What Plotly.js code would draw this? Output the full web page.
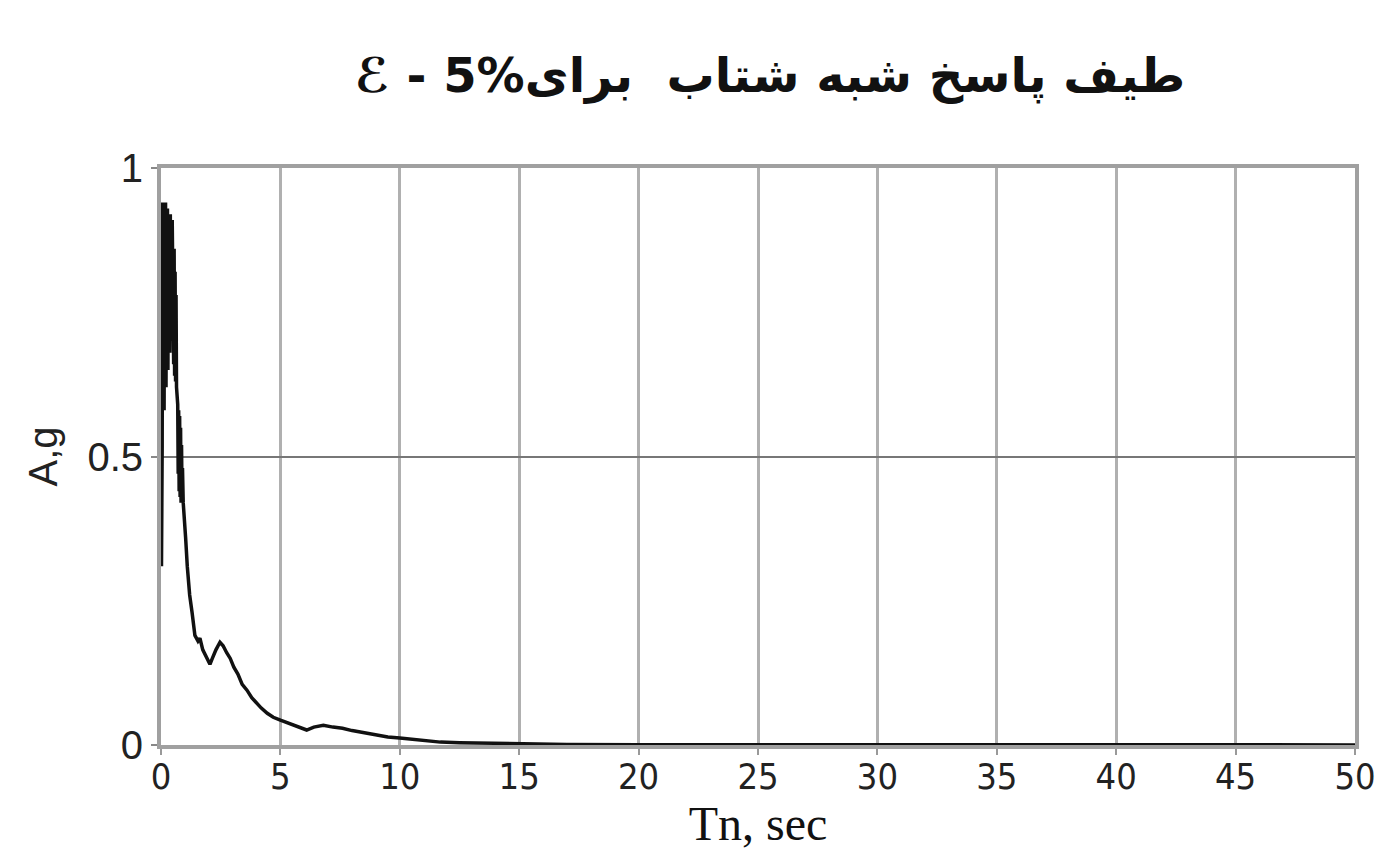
<!DOCTYPE html>
<html>
<head>
<meta charset="utf-8">
<script src="https://cdn.plot.ly/plotly-3.0.1.min.js"></script>
<style>html,body{margin:0;padding:0;background:#fff;}#chart{width:1380px;height:851px;}</style>
</head>
<body>
<div id="chart"></div>
<script>
// Period Tn (sec)
const periodT = [0.02, 0.05, 0.07, 0.09, 0.11, 0.13, 0.15, 0.17, 0.19, 0.21, 0.23, 0.25, 0.27, 0.29, 0.31, 0.33,
  0.35, 0.37, 0.39, 0.41, 0.43, 0.45, 0.47, 0.49, 0.51, 0.53, 0.55, 0.57, 0.59, 0.61, 0.63, 0.65,
  0.67, 0.70, 0.72, 0.74, 0.76, 0.78, 0.80, 0.82, 0.84, 0.86, 0.88, 0.90, 0.93, 0.97, 1.03, 1.10,
  1.20, 1.30, 1.42, 1.55, 1.63, 1.75, 1.87, 1.97, 2.05, 2.15, 2.30, 2.47, 2.60, 2.75, 2.90, 3.05,
  3.22, 3.40, 3.60, 3.80, 4.00, 4.20, 4.45, 4.70, 5.00, 5.30, 5.60, 5.90, 6.10, 6.40, 6.80, 7.20,
  7.60, 8.00, 8.50, 9.00, 9.50, 10.0, 10.8, 11.7, 12.5, 13.8, 15.0, 17.0, 20.0, 25.0, 30.0, 35.0,
  40.0, 45.0, 50.0];
// Pseudo-acceleration A (g)
const accelA = [0.31, 0.52, 0.94, 0.60, 0.93, 0.58, 0.92, 0.66, 0.94, 0.62, 0.91, 0.70, 0.93, 0.65, 0.92, 0.72,
  0.90, 0.68, 0.92, 0.74, 0.89, 0.70, 0.91, 0.75, 0.88, 0.66, 0.86, 0.64, 0.82, 0.63, 0.78, 0.62,
  0.60, 0.59, 0.47, 0.58, 0.44, 0.57, 0.43, 0.55, 0.42, 0.52, 0.43, 0.48, 0.42, 0.40, 0.36, 0.31,
  0.26, 0.23, 0.19, 0.18, 0.185, 0.165, 0.155, 0.145, 0.14, 0.15, 0.165, 0.178, 0.172, 0.16, 0.15, 0.135,
  0.123, 0.105, 0.095, 0.082, 0.072, 0.064, 0.055, 0.048, 0.043, 0.038, 0.034, 0.029, 0.026, 0.031, 0.034, 0.031,
  0.029, 0.025, 0.021, 0.017, 0.014, 0.012, 0.008, 0.005, 0.004, 0.003, 0.002, 0.001, 0.0005, 0.0003, 0.0002, 0.0002,
  0.0002, 0.0002, 0.0002];
const xTicks = [0, 5, 10, 15, 20, 25, 30, 35, 40, 45, 50];
const yTicks = [0, 0.5, 1];
const yTickText = ['0', '0.5', '1'];
const chartTitle = '\u2130 - 5%' + 'طیف پاسخ شبه شتاب  برای';
const xTitle = 'Tn, sec';
const yTitle = 'A,g';

const trace = {
  x: periodT, y: accelA, type: 'scatter', mode: 'lines',
  line: {color: '#111', width: 3.5}, hoverinfo: 'skip'
};
const layout = {
  width: 1380, height: 851,
  margin: {l: 161, r: 25, t: 168, b: 106},
  paper_bgcolor: '#fff', plot_bgcolor: '#fff',
  showlegend: false,
  title: {
    text: chartTitle,
    font: {family: 'DejaVu Sans', size: 48, color: '#111', weight: 'bold'},
    xref: 'container', x: 0.558, xanchor: 'center',
    yref: 'container', y: 0.912, yanchor: 'middle'
  },
  xaxis: {
    range: [0, 50], tickvals: xTicks, ticktext: xTicks.map(String),
    showgrid: true, gridcolor: '#b0b0b0', gridwidth: 3,
    showline: true, linecolor: '#a0a0a0', linewidth: 4, mirror: true,
    ticks: 'outside', ticklen: 6, tickcolor: '#999', tickwidth: 2,
    ticklabelstandoff: -9,
    zeroline: false,
    tickfont: {family: 'DejaVu Sans Condensed', size: 36, color: '#222'},
    title: {text: xTitle, standoff: 8,
      font: {family: 'Liberation Serif', size: 48, color: '#111'}}
  },
  yaxis: {
    range: [0, 1], tickvals: yTicks, ticktext: yTickText,
    showgrid: true, gridcolor: '#777', gridwidth: 2,
    showline: true, linecolor: '#a0a0a0', linewidth: 4, mirror: true,
    ticks: 'outside', ticklen: 6, tickcolor: '#888', tickwidth: 2,
    zeroline: false,
    tickfont: {family: 'Liberation Sans', size: 40, color: '#222'},
    title: {text: yTitle, standoff: 18,
      font: {family: 'Liberation Sans', size: 40, color: '#222'}}
  }
};
Plotly.newPlot('chart', [trace], layout, {staticPlot: true, displayModeBar: false});
</script>
</body>
</html>
